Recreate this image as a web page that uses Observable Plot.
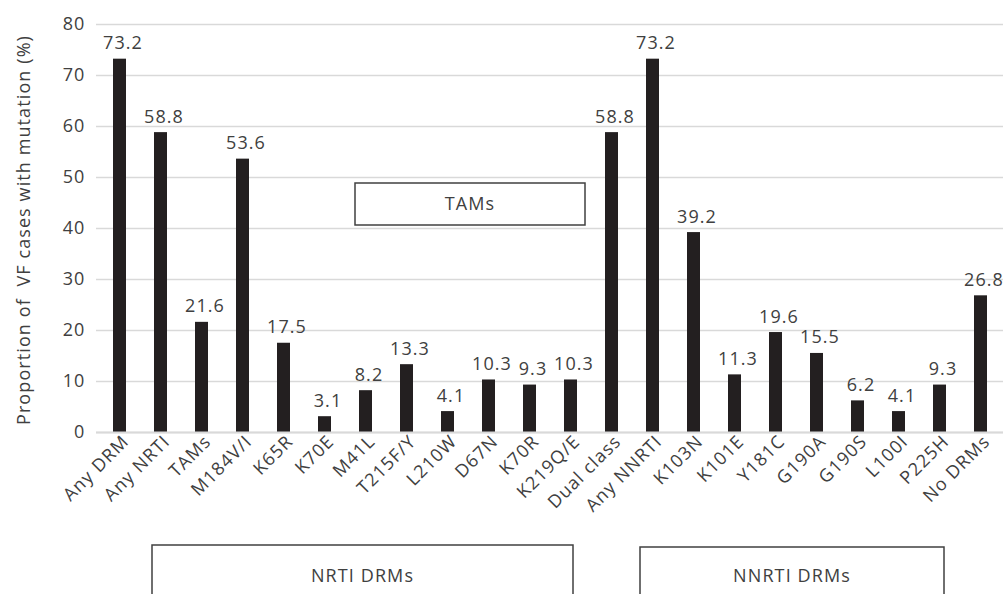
<!DOCTYPE html>
<html><head><meta charset="utf-8">
<script src="https://cdn.jsdelivr.net/npm/d3@7"></script>
<script src="https://cdn.jsdelivr.net/npm/@observablehq/plot@0.6"></script>
<style>
body{margin:0;background:#fff;}
#chart{position:relative;width:1006px;height:594px;}
#chart svg text{letter-spacing:1.1px;}
</style></head>
<body><div id="chart"></div>
<script>
const categories = ["Any DRM","Any NRTI","TAMs","M184V/I","K65R","K70E","M41L","T215F/Y","L210W","D67N","K70R","K219Q/E","Dual class","Any NNRTI","K103N","K101E","Y181C","G190A","G190S","L100I","P225H","No DRMs"];
const values = [73.2,58.8,21.6,53.6,17.5,3.1,8.2,13.3,4.1,10.3,9.3,10.3,58.8,73.2,39.2,11.3,19.6,15.5,6.2,4.1,9.3,26.8];
const yTicks = [0,10,20,30,40,50,60,70,80];
const yLabel = "Proportion of  VF cases with mutation (%)";
const groupLabels = ["NRTI DRMs","NNRTI DRMs"];
const annotationLabel = "TAMs";

const data = categories.map((c,i)=>({cat:c, v:values[i]}));
const font = "'Open Sans', sans-serif";
const textColor = "#404040";
const fs = 18;

const chart = Plot.plot({
  width:1006, height:594,
  marginLeft:96, marginRight:3, marginTop:24, marginBottom:162,
  style:{fontFamily:font, fontSize:fs+"px", color:textColor, background:"#fff"},
  x:{domain:categories, paddingInner:0.685, paddingOuter:0.34, label:null},
  y:{domain:[0,80], label:null},
  marks:[
    Plot.gridY(yTicks,{stroke:"#d9d9d9", strokeOpacity:1, strokeWidth:1.5}),
    Plot.barY(data,{x:"cat", y:"v", fill:"#231f20"}),
    Plot.ruleY([0],{stroke:"#d9d9d9", strokeWidth:2}),
    Plot.text(data,{x:"cat", y:"v", text:d=>d.v.toFixed(1), dy:-10, dx:3, lineAnchor:"bottom", fill:textColor, fontSize:fs}),
    Plot.axisY(yTicks,{tickSize:0, tickPadding:11, fontSize:fs, fill:textColor, label:null}),
    Plot.axisX({tickSize:0, tickPadding:6, dx:6, tickRotate:-45, fontSize:fs, fill:textColor, label:null})
  ]
});
document.getElementById("chart").appendChild(chart);

const svg = d3.select(chart);
svg.append("text")
  .attr("transform","translate(25,230) rotate(-90)")
  .attr("text-anchor","middle").attr("dominant-baseline","middle")
  .attr("fill",textColor).style("font-family",font).style("font-size",fs+"px")
  .text(yLabel);

function box(x1,y1,x2,y2,label,ty){
  svg.append("rect").attr("x",x1).attr("y",y1).attr("width",x2-x1).attr("height",y2-y1)
    .attr("fill","#fff").attr("stroke","#404040").attr("stroke-width",1.5);
  svg.append("text").attr("x",(x1+x2)/2).attr("y",ty).attr("text-anchor","middle")
    .attr("fill",textColor).style("font-family",font).style("font-size",fs+"px").text(label);
}
box(355,183,585,225,annotationLabel,210);
box(152,545,573,600,groupLabels[0],582);
box(640,547,944,600,groupLabels[1],582);
</script></body></html>
